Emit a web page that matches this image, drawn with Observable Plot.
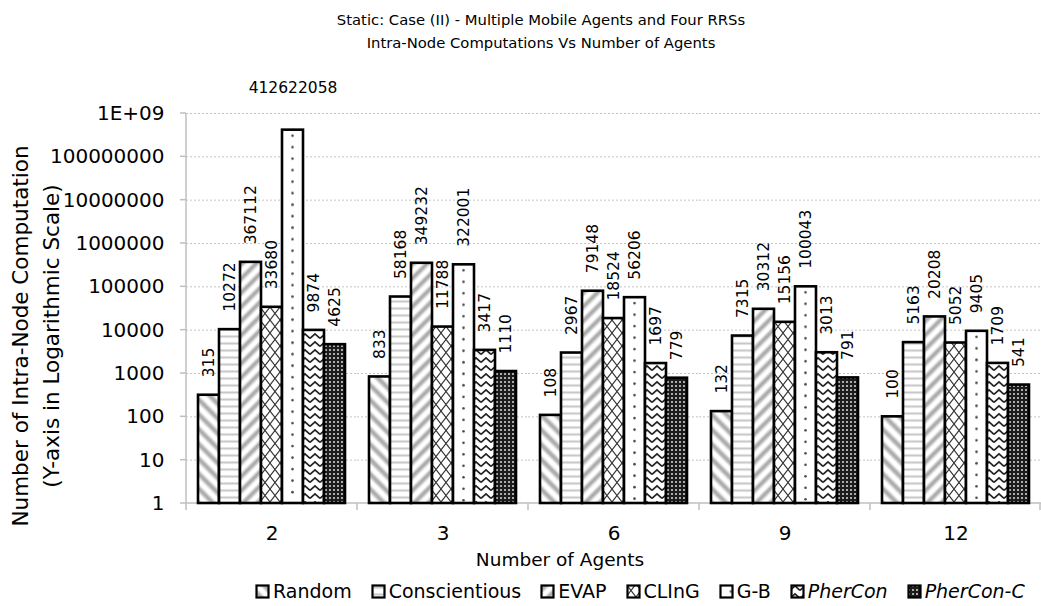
<!DOCTYPE html>
<html>
<head>
<meta charset="utf-8">
<script src="https://cdn.jsdelivr.net/npm/d3@7"></script>
<script src="https://cdn.jsdelivr.net/npm/@observablehq/plot@0.6"></script>
<style>
  body { margin: 0; background: #fff; }
  #wrap { position: relative; width: 1041px; height: 606px; overflow: hidden;
          font-family: "DejaVu Sans", Verdana, sans-serif; color: #000; }
  #title { position: absolute; top: 8px; left: 0; width: 1082px; text-align: center;
           font-size: 14.8px; line-height: 23px; }
  #chart { position: absolute; top: 60px; left: 0; }
  #xtitle { position: absolute; top: 548px; left: 0; width: 1120px; text-align: center;
            font-size: 18.5px; line-height: 24px; }
  #legend { position: absolute; top: 579px; left: 255px; display: flex; gap: 19px;
            font-size: 19px; line-height: 24px; white-space: nowrap; }
  #legend .item { display: flex; align-items: center; }
  #legend svg { margin-right: 3px; }
  #legend .it { font-style: italic; }
</style>
</head>
<body>
<div id="wrap">
  <div id="title">Static: Case (II) - Multiple Mobile Agents and Four RRSs<br>Intra-Node Computations Vs Number of Agents</div>
  <div id="chart"></div>
  <div id="xtitle">Number of Agents</div>
  <div id="legend"></div>
</div>
<script>
// Number of agents (x groups) and the seven algorithms
const agents = ["2", "3", "6", "9", "12"];
const algorithms = ["Random", "Conscientious", "EVAP", "CLInG", "G-B", "PherCon", "PherCon-C"];
const italicNames = ["PherCon", "PherCon-C"];

// Intra-node computations per algorithm, one value per agent count
const random        = [315, 833, 108, 132, 100];
const conscientious = [10272, 58168, 2967, 7315, 5163];
const evap          = [367112, 349232, 79148, 30312, 20208];
const cling         = [33680, 11788, 18524, 15156, 5052];
const gb            = [412622058, 322001, 56206, 100043, 9405];
const pherCon       = [9874, 3417, 1697, 3013, 1709];
const pherConC      = [4625, 1110, 779, 791, 541];

// Logarithmic y-axis ticks and their labels
const yTicks      = [1, 10, 100, 1000, 10000, 100000, 1000000, 10000000, 100000000, 1000000000];
const yTickLabels = ["1", "10", "100", "1000", "10000", "100000", "1000000", "10000000", "100000000", "1E+09"];

const seriesValues = [random, conscientious, evap, cling, gb, pherCon, pherConC];
const rows = algorithms.flatMap((alg, i) =>
  seriesValues[i].map((value, j) => ({agents: agents[j], alg, value})));

const patternId = (alg) => "pat-" + alg.toLowerCase().replace(/[^a-z]/g, "");
const patternUrl = (alg) => `url(#${patternId(alg)})`;

// Labels that fit above their bar are rotated; the tallest one is laid flat
const flatLabels = rows.filter(d => d.value >= 1e8);
const rotatedLabels = rows.filter(d => d.value < 1e8);

const chart = Plot.plot({
  width: 1041,
  height: 488,
  marginLeft: 186,
  marginRight: 0,
  marginTop: 53,
  marginBottom: 45,
  style: {fontFamily: "'DejaVu Sans', Verdana, sans-serif", fontSize: "20px", color: "#000", background: "transparent", overflow: "visible"},
  fx: {domain: agents, padding: 0, label: null, tickSize: 0, tickPadding: 22},
  x: {domain: algorithms, paddingInner: 0, paddingOuter: 0.44, axis: null},
  y: {type: "log", domain: [1, 1e9], ticks: yTicks, tickFormat: d => yTickLabels[yTicks.indexOf(d)],
      tickSize: 0, tickPadding: 22, label: null},
  color: {domain: algorithms, range: algorithms.map(patternUrl)},
  marks: [
    Plot.ruleY(yTicks.slice(1), {stroke: "#c4c4c4", strokeWidth: 1, strokeDasharray: "2,2"}),
    Plot.barY(rows, {fx: "agents", x: "alg", y1: 1, y2: "value", fill: "alg",
                     stroke: "#000", strokeWidth: 2.6, inset: 0}),
    Plot.text(rotatedLabels, {fx: "agents", x: "alg", y: "value", text: d => String(d.value),
                              rotate: -90, textAnchor: "start", dy: -18, fontSize: 15.5, fill: "#000"}),
    Plot.text(flatLabels, {fx: "agents", x: "alg", y: "value", text: d => String(d.value),
                           dy: -42, fontSize: 15.5, fill: "#000"})
  ]
});

document.getElementById("chart").appendChild(chart);

const fxS = chart.scale("fx");
const xS = chart.scale("x");
const yS = chart.scale("y");
const barW = Math.abs(xS.apply(algorithms[1]) - xS.apply(algorithms[0]));

// Fill patterns for the bars and the legend swatches
const dots = d3.range(0, 40).map(k =>
  `<circle cx="${barW / 2}" cy="${6 + k * 11.5}" r="1.3" fill="#4a4a4a"/>`).join("");
const defs = d3.select(chart).insert("defs", ":first-child");
defs.html(`
  <linearGradient id="grad-diag" x1="0" x2="1" y1="0" y2="0">
    <stop offset="0" stop-color="#fff"/><stop offset="0.15" stop-color="#fff"/>
    <stop offset="0.45" stop-color="#ababab"/><stop offset="0.58" stop-color="#ababab"/>
    <stop offset="0.88" stop-color="#fff"/><stop offset="1" stop-color="#fff"/>
  </linearGradient>
  <linearGradient id="grad-horiz" x1="0" x2="0" y1="0" y2="1">
    <stop offset="0" stop-color="#fff"/><stop offset="0.2" stop-color="#fff"/>
    <stop offset="0.5" stop-color="#c8c8c8"/>
    <stop offset="0.8" stop-color="#fff"/><stop offset="1" stop-color="#fff"/>
  </linearGradient>
  <pattern id="${patternId("Random")}" patternUnits="userSpaceOnUse" width="10.5" height="10.5" patternTransform="rotate(-45)">
    <rect width="10.5" height="10.5" fill="url(#grad-diag)"/>
  </pattern>
  <pattern id="${patternId("Conscientious")}" patternUnits="userSpaceOnUse" width="8" height="7">
    <rect width="8" height="7" fill="url(#grad-horiz)"/>
  </pattern>
  <pattern id="${patternId("EVAP")}" patternUnits="userSpaceOnUse" width="10" height="10" patternTransform="rotate(45)">
    <rect width="10" height="10" fill="url(#grad-diag)"/>
  </pattern>
  <pattern id="${patternId("CLInG")}" patternUnits="userSpaceOnUse" width="10" height="13">
    <rect width="10" height="13" fill="#fff"/>
    <path d="M0,0L10,13M10,0L0,13" stroke="#333" stroke-width="1.1"/>
  </pattern>
  <pattern id="${patternId("G-B")}" patternUnits="objectBoundingBox" x="0" y="0" width="1" height="1">
    <rect width="${barW}" height="500" fill="#fff"/>${dots}
  </pattern>
  <pattern id="${patternId("PherCon")}" patternUnits="userSpaceOnUse" width="10" height="8">
    <rect width="10" height="8" fill="#fff"/>
    <polyline points="0,6.5 5,1.8 10,6.5" fill="none" stroke="#222" stroke-width="1.7"/>
  </pattern>
  <pattern id="${patternId("PherCon-C")}" patternUnits="userSpaceOnUse" width="4" height="4">
    <rect width="4" height="4" fill="#1c1c1c"/>
    <circle cx="2" cy="2" r="0.95" fill="#e8e8e8"/>
  </pattern>
`);

// Axis lines and tick marks drawn from the plot's own scales
const x0 = fxS.range[0], x1 = fxS.range[1];
const y0 = yS.apply(1), yTop = yS.apply(1e9);
const axis = d3.select(chart).insert("g", "g").attr("stroke", "#bfbfbf").attr("stroke-width", 1.5);
axis.append("line").attr("x1", x0).attr("x2", x1).attr("y1", y0).attr("y2", y0);
axis.append("line").attr("x1", x0).attr("x2", x0).attr("y1", yTop).attr("y2", y0);
for (const t of yTicks) {
  axis.append("line").attr("x1", x0 - 6).attr("x2", x0).attr("y1", yS.apply(t)).attr("y2", yS.apply(t));
}
for (const bx of [...agents.map(a => fxS.apply(a)), x1 - 1]) {
  axis.append("line").attr("x1", bx).attr("x2", bx).attr("y1", y0).attr("y2", y0 + 7);
}

// Two-line rotated y-axis title
const yMid = (yTop + y0) / 2 + 28;
const ytitle = d3.select(chart).append("g")
  .attr("font-size", 21.5).attr("text-anchor", "middle").attr("fill", "#000");
ytitle.append("text").attr("transform", `translate(20,${yMid}) rotate(-90)`).attr("dy", "0.35em")
  .text("Number of Intra-Node Computation");
ytitle.append("text").attr("transform", `translate(51,${yMid}) rotate(-90)`).attr("dy", "0.35em")
  .text("(Y-axis in Logarithmic Scale)");

// Legend with pattern swatches
const legend = d3.select("#legend");
for (const alg of algorithms) {
  const item = legend.append("div").attr("class", "item");
  const sw = item.append("svg").attr("width", 15).attr("height", 15);
  sw.append("rect").attr("x", 1.5).attr("y", 1.5).attr("width", 12).attr("height", 12)
    .attr("fill", patternUrl(alg)).attr("stroke", "#000").attr("stroke-width", 2.2);
  item.append("span").attr("class", italicNames.includes(alg) ? "it" : null).text(alg);
}
</script>
</body>
</html>
